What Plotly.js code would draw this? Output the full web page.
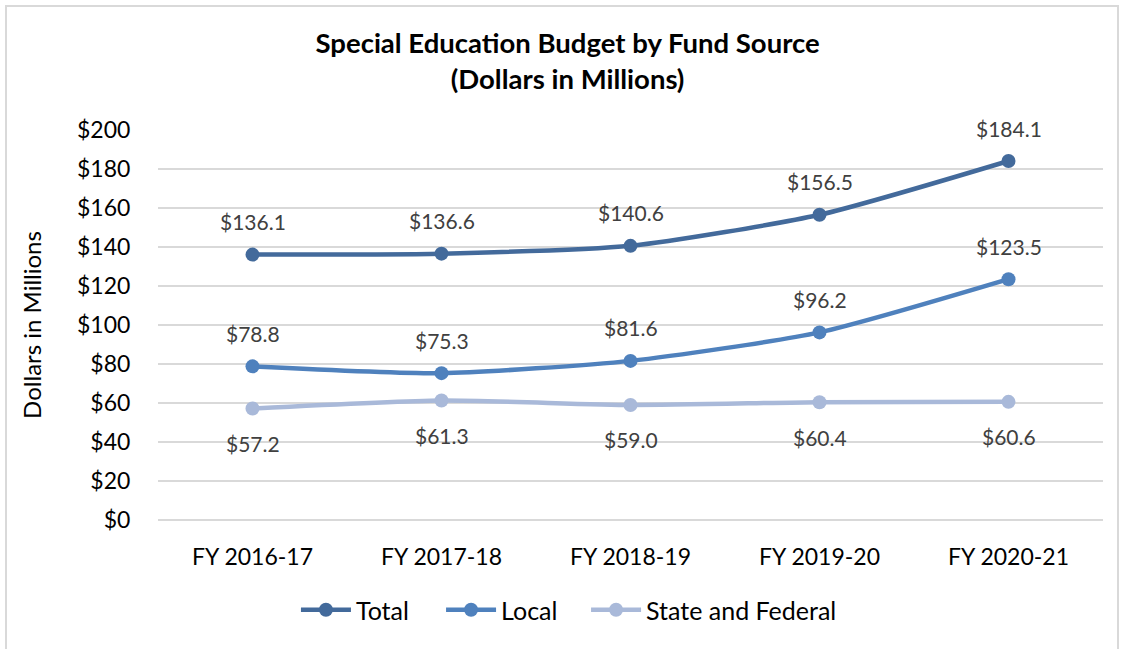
<!DOCTYPE html>
<html>
<head>
<meta charset="utf-8">
<script src="https://cdn.plot.ly/plotly-3.0.1.min.js"></script>
<style>
  html, body { margin: 0; padding: 0; background: #fff; }
  #wrap { position: relative; width: 1124px; height: 649px; overflow: hidden; }
  #chart { width: 1124px; height: 649px; }
  #frame { position: absolute; left: 5px; top: 5px; width: 1110px; height: 680px;
           border: 2px solid #D9D9D9; pointer-events: none; }
</style>
</head>
<body>
<div id="wrap">
  <div id="chart"></div>
  <div id="frame"></div>
</div>
<script>
const categories = ["FY 2016-17", "FY 2017-18", "FY 2018-19", "FY 2019-20", "FY 2020-21"];
const totalValues = [136.1, 136.6, 140.6, 156.5, 184.1];
const localValues = [78.8, 75.3, 81.6, 96.2, 123.5];
const stateFederalValues = [57.2, 61.3, 59.0, 60.4, 60.6];
const seriesNames = ["Total", "Local", "State and Federal"];
const yTickValues = [0, 20, 40, 60, 80, 100, 120, 140, 160, 180, 200];

const colors = ["#436A9B", "#4F81BD", "#A9B9D9"];
const seriesData = [totalValues, localValues, stateFederalValues];
const labelShift = [33, 33, -35];
const legendIds = ["legend", "legend2", "legend3"];
const legendX = [0.2633, 0.3924, 0.5214];
const FONT = "Lato, 'Open Sans', sans-serif";

const traces = seriesData.map((vals, i) => ({
  type: "scatter",
  mode: "lines+markers",
  name: seriesNames[i],
  legend: legendIds[i],
  x: categories,
  y: vals,
  line: { color: colors[i], width: 4.5, shape: "spline", smoothing: 0.6 },
  marker: { color: colors[i], size: 14 },
  hoverinfo: "x+y"
}));

const annotations = [];
seriesData.forEach((vals, i) => {
  vals.forEach((v, j) => {
    annotations.push({
      x: categories[j], y: v, xref: "x", yref: "y",
      text: "$" + v.toFixed(1), showarrow: false,
      yshift: labelShift[i],
      font: { family: FONT, size: 21, color: "#404040" }
    });
  });
});

const layout = {
  width: 1124, height: 649,
  margin: { l: 158, r: 21, t: 130, b: 129 },
  paper_bgcolor: "#fff", plot_bgcolor: "#fff",
  font: { family: FONT, color: "#000" },
  title: {
    text: "<b>Special Education Budget by Fund Source<br>(Dollars in Millions)</b>",
    x: 0.505, xref: "container", xanchor: "center",
    y: 0.918, yref: "container", yanchor: "top",
    font: { family: FONT, size: 27.5, color: "#000" }
  },
  xaxis: {
    type: "category",
    tickvals: categories, ticktext: categories,
    showgrid: false, showline: false, zeroline: false,
    ticks: "outside", ticklen: 16, tickcolor: "rgba(0,0,0,0)",
    tickfont: { family: FONT, size: 23, color: "#000" },
    range: [-0.5, 4.5], fixedrange: true
  },
  yaxis: {
    range: [0, 200],
    tickvals: yTickValues,
    ticktext: yTickValues.map(v => "$" + v),
    showgrid: true, gridcolor: "#D9D9D9", gridwidth: 1.5,
    zeroline: true, zerolinecolor: "#D9D9D9", zerolinewidth: 1.5,
    showline: false,
    ticks: "outside", ticklen: 22, tickcolor: "rgba(0,0,0,0)",
    tickfont: { family: FONT, size: 23, color: "#000" },
    title: { text: "Dollars in Millions", standoff: 28, font: { family: FONT, size: 24, color: "#000" } },
    fixedrange: true
  },
  showlegend: true,
  annotations: annotations
};

legendIds.forEach((id, i) => {
  layout[id] = {
    orientation: "h",
    xref: "container", yref: "container",
    x: legendX[i], xanchor: "left",
    y: 0.06, yanchor: "middle",
    font: { family: FONT, size: 25, color: "#000" },
    itemwidth: 50,
    bgcolor: "rgba(0,0,0,0)"
  };
});

Plotly.newPlot("chart", traces, layout, { displayModeBar: false, staticPlot: true });
</script>
</body>
</html>
